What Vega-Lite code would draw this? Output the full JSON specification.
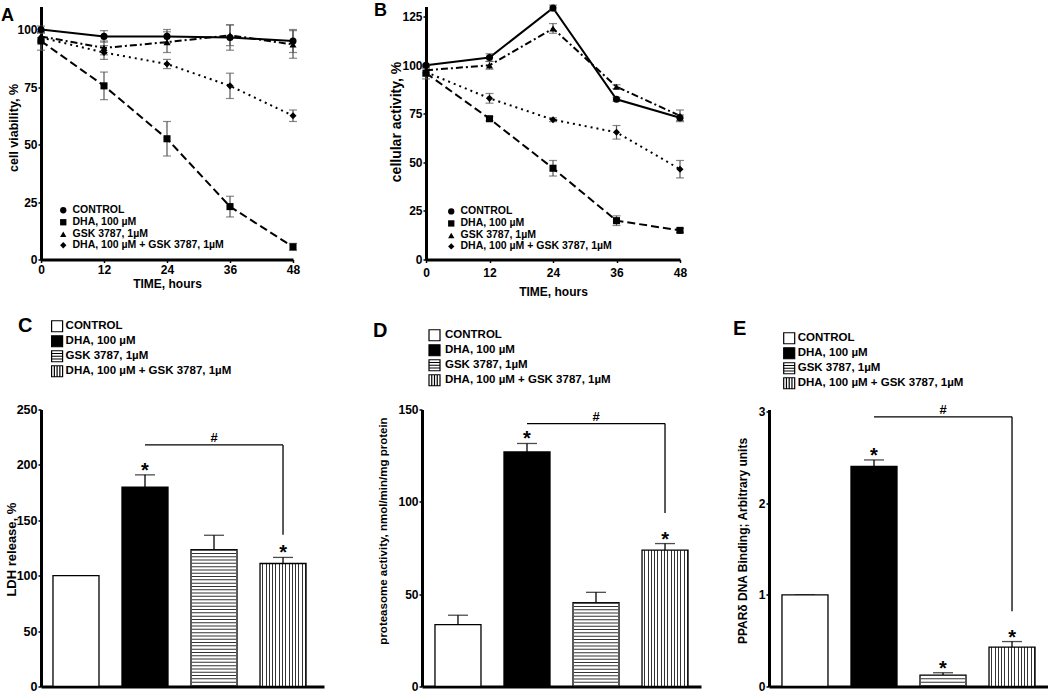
{
"$schema": "https://vega.github.io/schema/vega-lite/v6.json",
"background": "white",
"padding": {"left": 1, "top": 1.5, "right": 0, "bottom": 0},
"config": {
 "font": "Liberation Sans",
 "view": {"stroke": null},
 "axis": {"domainColor": "black", "domainWidth": 3, "tickColor": "black", "tickWidth": 1.5, "tickSize": 3, "labelColor": "black", "labelFontWeight": "bold", "labelFont": "Liberation Sans", "titleColor": "black", "titleFontWeight": "bold", "titleFont": "Liberation Sans", "titleBaseline": "middle", "grid": false, "zindex": 1, "labelFlush": false, "labelOverlap": false},
 "legend": {"labelFont": "Liberation Sans", "labelFontWeight": "bold", "labelColor": "black", "titleFont": "Liberation Sans", "titleColor": "black", "padding": 0, "direction": "vertical", "labelLimit": 0},
 "title": {"font": "Liberation Sans", "fontWeight": "bold", "color": "black"}
},
"datasets": {
 "lineA": [
  {"t": 0, "g": "CONTROL", "v": 100, "e": 1.5}, {"t": 12, "g": "CONTROL", "v": 97, "e": 2.5}, {"t": 24, "g": "CONTROL", "v": 97, "e": 3}, {"t": 36, "g": "CONTROL", "v": 96.5, "e": 5.5}, {"t": 48, "g": "CONTROL", "v": 95, "e": 5},
  {"t": 0, "g": "DHA, 100 µM", "v": 95, "e": 4}, {"t": 12, "g": "DHA, 100 µM", "v": 75.5, "e": 6}, {"t": 24, "g": "DHA, 100 µM", "v": 52.5, "e": 7.5}, {"t": 36, "g": "DHA, 100 µM", "v": 23, "e": 4.5}, {"t": 48, "g": "DHA, 100 µM", "v": 5.5, "e": 1.5},
  {"t": 0, "g": "GSK 3787, 1µM", "v": 97, "e": 2}, {"t": 12, "g": "GSK 3787, 1µM", "v": 92, "e": 3}, {"t": 24, "g": "GSK 3787, 1µM", "v": 94.5, "e": 4.5}, {"t": 36, "g": "GSK 3787, 1µM", "v": 97.5, "e": 4.5}, {"t": 48, "g": "GSK 3787, 1µM", "v": 93.5, "e": 6},
  {"t": 0, "g": "DHA, 100 µM + GSK 3787, 1µM", "v": 96.5, "e": 2}, {"t": 12, "g": "DHA, 100 µM + GSK 3787, 1µM", "v": 90, "e": 3}, {"t": 24, "g": "DHA, 100 µM + GSK 3787, 1µM", "v": 85, "e": 2}, {"t": 36, "g": "DHA, 100 µM + GSK 3787, 1µM", "v": 75.5, "e": 5.5}, {"t": 48, "g": "DHA, 100 µM + GSK 3787, 1µM", "v": 62.5, "e": 2.5}
 ],
 "lineB": [
  {"t": 0, "g": "CONTROL", "v": 100, "e": 0.5}, {"t": 12, "g": "CONTROL", "v": 104, "e": 2}, {"t": 24, "g": "CONTROL", "v": 129.5, "e": 1.5}, {"t": 36, "g": "CONTROL", "v": 82.5, "e": 1}, {"t": 48, "g": "CONTROL", "v": 73, "e": 1.5},
  {"t": 0, "g": "DHA, 100 µM", "v": 96, "e": 3}, {"t": 12, "g": "DHA, 100 µM", "v": 72.5, "e": 1}, {"t": 24, "g": "DHA, 100 µM", "v": 47, "e": 4}, {"t": 36, "g": "DHA, 100 µM", "v": 20, "e": 2.5}, {"t": 48, "g": "DHA, 100 µM", "v": 15, "e": 1},
  {"t": 0, "g": "GSK 3787, 1µM", "v": 97.5, "e": 2}, {"t": 12, "g": "GSK 3787, 1µM", "v": 100, "e": 2}, {"t": 24, "g": "GSK 3787, 1µM", "v": 119, "e": 2.5}, {"t": 36, "g": "GSK 3787, 1µM", "v": 89, "e": 1}, {"t": 48, "g": "GSK 3787, 1µM", "v": 74, "e": 3},
  {"t": 0, "g": "DHA, 100 µM + GSK 3787, 1µM", "v": 96.5, "e": 2}, {"t": 12, "g": "DHA, 100 µM + GSK 3787, 1µM", "v": 83, "e": 2.5}, {"t": 24, "g": "DHA, 100 µM + GSK 3787, 1µM", "v": 72, "e": 1}, {"t": 36, "g": "DHA, 100 µM + GSK 3787, 1µM", "v": 65.5, "e": 3.5}, {"t": 48, "g": "DHA, 100 µM + GSK 3787, 1µM", "v": 46.5, "e": 4.5}
 ],
 "barC": [
  {"g": "CONTROL", "v": 100, "hi": 100, "sig": ""},
  {"g": "DHA, 100 µM", "v": 180, "hi": 191, "sig": "*"},
  {"g": "GSK 3787, 1µM", "v": 123.5, "hi": 136.5, "sig": ""},
  {"g": "DHA, 100 µM + GSK 3787, 1µM", "v": 111, "hi": 116.5, "sig": "*"}
 ],
 "barD": [
  {"g": "CONTROL", "v": 33.5, "hi": 38.6, "sig": ""},
  {"g": "DHA, 100 µM", "v": 127, "hi": 131.6, "sig": "*"},
  {"g": "GSK 3787, 1µM", "v": 45.4, "hi": 51, "sig": ""},
  {"g": "DHA, 100 µM + GSK 3787, 1µM", "v": 73.8, "hi": 77.4, "sig": "*"}
 ],
 "barE": [
  {"g": "CONTROL", "v": 1.0, "hi": 1.0, "sig": ""},
  {"g": "DHA, 100 µM", "v": 2.4, "hi": 2.47, "sig": "*"},
  {"g": "GSK 3787, 1µM", "v": 0.125, "hi": 0.15, "sig": "*"},
  {"g": "DHA, 100 µM + GSK 3787, 1µM", "v": 0.43, "hi": 0.49, "sig": "*"}
 ],
 "brC": [{"from": "DHA, 100 µM", "to": "DHA, 100 µM + GSK 3787, 1µM", "mid": "GSK 3787, 1µM", "level": 218, "end": 137}],
 "brD": [{"from": "DHA, 100 µM", "to": "DHA, 100 µM + GSK 3787, 1µM", "mid": "GSK 3787, 1µM", "level": 142.4, "end": 94}],
 "brE": [{"from": "DHA, 100 µM", "to": "DHA, 100 µM + GSK 3787, 1µM", "mid": "GSK 3787, 1µM", "level": 2.94, "end": 0.82}]
},
"spacing": 403,
"bounds": "flush",
"resolve": {"scale": {"shape": "independent", "fill": "independent"}, "legend": {"shape": "independent", "fill": "independent"}},
"vconcat": [
 {
  "hconcat": [
   {
    "width": 252, "height": 253,
    "title": {"text": "A", "anchor": "start", "frame": "group", "offset": -32, "baseline": "alphabetic", "dx": -40, "fontSize": 18},
    "data": {"name": "lineA"},
    "encoding": {
     "x": {"field": "t", "type": "quantitative", "scale": {"domain": [0, 48], "nice": false, "zero": false}, "axis": {"values": [0, 12, 24, 36, 48], "title": "TIME, hours", "titleFontSize": 12, "titleY": 24, "labelFontSize": 12, "labelPadding": 2}},
     "y": {"field": "v", "type": "quantitative", "scale": {"domain": [0, 110], "nice": false}, "axis": {"values": [0, 25, 50, 75, 100], "title": "cell viability, %", "titleFontSize": 12.5, "titleX": -27.7, "titleY": 121, "labelFontSize": 12, "labelPadding": 1}}
    },
    "layer": [
     {"transform": [{"filter": "datum.g === 'CONTROL'"}], "mark": {"type": "line", "color": "black", "strokeWidth": 2}},
     {"transform": [{"filter": "datum.g === 'DHA, 100 µM'"}], "mark": {"type": "line", "color": "black", "strokeWidth": 2, "strokeDash": [8, 4]}},
     {"transform": [{"filter": "datum.g === 'GSK 3787, 1µM'"}], "mark": {"type": "line", "color": "black", "strokeWidth": 2, "strokeDash": [7, 3, 2, 3]}},
     {"transform": [{"filter": "datum.g === 'DHA, 100 µM + GSK 3787, 1µM'"}], "mark": {"type": "line", "color": "black", "strokeWidth": 2, "strokeDash": [2, 4]}},
     {"mark": {"type": "errorbar", "color": "#555", "thickness": 1.2, "ticks": {"size": 8}}, "encoding": {"yError": {"field": "e"}}},
     {"mark": {"type": "point", "filled": true, "color": "black", "opacity": 1, "size": 50}, "encoding": {"shape": {"field": "g", "type": "nominal", "scale": {"domain": ["CONTROL", "DHA, 100 µM", "GSK 3787, 1µM", "DHA, 100 µM + GSK 3787, 1µM"], "range": ["circle", "square", "triangle-up", "diamond"]}, "legend": {"orient": "none", "legendX": 17, "legendY": 198.5, "title": null, "labelFontSize": 10.5, "symbolSize": 40, "rowPadding": -3, "labelOffset": 4, "symbolFillColor": "black", "symbolStrokeColor": "black"}}}}
    ]
   },
   {
    "width": 254, "height": 253,
    "title": {"text": "B", "anchor": "start", "frame": "group", "offset": -30.4, "baseline": "alphabetic", "dx": -52, "fontSize": 18},
    "data": {"name": "lineB"},
    "encoding": {
     "x": {"field": "t", "type": "quantitative", "scale": {"domain": [0, 48], "nice": false, "zero": false}, "axis": {"values": [0, 12, 24, 36, 48], "title": "TIME, hours", "titleFontSize": 12, "titleY": 31.7, "labelFontSize": 12, "labelPadding": 5}},
     "y": {"field": "v", "type": "quantitative", "scale": {"domain": [0, 130.3], "nice": false}, "axis": {"values": [0, 25, 50, 75, 100, 125], "title": "cellular activity, %", "titleFontSize": 14, "titleX": -29.3, "titleY": 115, "labelFontSize": 12, "labelPadding": 1}}
    },
    "layer": [
     {"transform": [{"filter": "datum.g === 'CONTROL'"}], "mark": {"type": "line", "color": "black", "strokeWidth": 2}},
     {"transform": [{"filter": "datum.g === 'DHA, 100 µM'"}], "mark": {"type": "line", "color": "black", "strokeWidth": 2, "strokeDash": [8, 4]}},
     {"transform": [{"filter": "datum.g === 'GSK 3787, 1µM'"}], "mark": {"type": "line", "color": "black", "strokeWidth": 2, "strokeDash": [7, 3, 2, 3]}},
     {"transform": [{"filter": "datum.g === 'DHA, 100 µM + GSK 3787, 1µM'"}], "mark": {"type": "line", "color": "black", "strokeWidth": 2, "strokeDash": [2, 4]}},
     {"mark": {"type": "errorbar", "color": "#555", "thickness": 1.2, "ticks": {"size": 8}}, "encoding": {"yError": {"field": "e"}}},
     {"mark": {"type": "point", "filled": true, "color": "black", "opacity": 1, "size": 50}, "encoding": {"shape": {"field": "g", "type": "nominal", "scale": {"domain": ["CONTROL", "DHA, 100 µM", "GSK 3787, 1µM", "DHA, 100 µM + GSK 3787, 1µM"], "range": ["circle", "square", "triangle-up", "diamond"]}, "legend": {"orient": "none", "legendX": 20, "legendY": 199.7, "title": null, "labelFontSize": 10.5, "symbolSize": 40, "rowPadding": -2.2, "labelOffset": 4, "symbolFillColor": "black", "symbolStrokeColor": "black"}}}}
    ]
   }
  ],
  "spacing": 133,
  "bounds": "flush",
  "resolve": {"scale": {"shape": "independent", "fill": "independent"}, "legend": {"shape": "independent", "fill": "independent"}}
 },
 {
  "hconcat": [
   {
    "width": 283, "height": 277,
    "data": {"name": "barC"},
    "encoding": {"x": {"field": "g", "type": "nominal", "sort": null, "scale": {"domain": ["CONTROL", "DHA, 100 µM", "GSK 3787, 1µM", "DHA, 100 µM + GSK 3787, 1µM"], "paddingInner": 0.3333, "paddingOuter": 0.217, "align": 0.4}, "axis": {"labels": false, "ticks": false, "title": null}}},
    "layer": [
     {"mark": {"type": "rule", "color": "black", "strokeWidth": 1.3}, "encoding": {"y": {"field": "v", "type": "quantitative", "scale": {"domain": [0, 250], "nice": false}, "axis": {"values": [0, 50, 100, 150, 200, 250], "title": "LDH release, %", "titleFontSize": 13, "titleX": -29.3, "titleY": 139.6, "labelFontSize": 12.5, "labelPadding": 1}}, "y2": {"field": "hi"}}},
     {"mark": {"type": "tick", "color": "black", "size": 20, "thickness": 1.3}, "encoding": {"y": {"field": "hi", "type": "quantitative"}}},
     {"mark": {"type": "bar", "stroke": "black", "strokeWidth": 1.3}, "encoding": {"y": {"field": "v", "type": "quantitative"}, "fill": {"condition": {"test": "datum.g === 'DHA, 100 µM + GSK 3787, 1µM'", "value": {"gradient": "linear", "x1": 0, "y1": 0, "x2": 1, "y2": 0, "stops": [{"offset":0,"color":"white"},{"offset":0.05,"color":"white"},{"offset":0.05,"color":"#333"},{"offset":0.0714,"color":"#333"},{"offset":0.0714,"color":"white"},{"offset":0.1214,"color":"white"},{"offset":0.1214,"color":"#333"},{"offset":0.1429,"color":"#333"},{"offset":0.1429,"color":"white"},{"offset":0.1929,"color":"white"},{"offset":0.1929,"color":"#333"},{"offset":0.2143,"color":"#333"},{"offset":0.2143,"color":"white"},{"offset":0.2643,"color":"white"},{"offset":0.2643,"color":"#333"},{"offset":0.2857,"color":"#333"},{"offset":0.2857,"color":"white"},{"offset":0.3357,"color":"white"},{"offset":0.3357,"color":"#333"},{"offset":0.3571,"color":"#333"},{"offset":0.3571,"color":"white"},{"offset":0.4071,"color":"white"},{"offset":0.4071,"color":"#333"},{"offset":0.4286,"color":"#333"},{"offset":0.4286,"color":"white"},{"offset":0.4786,"color":"white"},{"offset":0.4786,"color":"#333"},{"offset":0.5,"color":"#333"},{"offset":0.5,"color":"white"},{"offset":0.55,"color":"white"},{"offset":0.55,"color":"#333"},{"offset":0.5714,"color":"#333"},{"offset":0.5714,"color":"white"},{"offset":0.6214,"color":"white"},{"offset":0.6214,"color":"#333"},{"offset":0.6429,"color":"#333"},{"offset":0.6429,"color":"white"},{"offset":0.6929,"color":"white"},{"offset":0.6929,"color":"#333"},{"offset":0.7143,"color":"#333"},{"offset":0.7143,"color":"white"},{"offset":0.7643,"color":"white"},{"offset":0.7643,"color":"#333"},{"offset":0.7857,"color":"#333"},{"offset":0.7857,"color":"white"},{"offset":0.8357,"color":"white"},{"offset":0.8357,"color":"#333"},{"offset":0.8571,"color":"#333"},{"offset":0.8571,"color":"white"},{"offset":0.9071,"color":"white"},{"offset":0.9071,"color":"#333"},{"offset":0.9286,"color":"#333"},{"offset":0.9286,"color":"white"},{"offset":0.9786,"color":"white"},{"offset":0.9786,"color":"#333"},{"offset":1,"color":"#333"}]}}, "field": "g", "type": "nominal", "scale": {"domain": ["CONTROL", "DHA, 100 µM", "GSK 3787, 1µM", "DHA, 100 µM + GSK 3787, 1µM"], "range": ["white", "black", "white", "white"]}, "legend": {"orient": "none", "legendX": -23, "legendY": -89.75, "title": "C", "titleOrient": "left", "titleAnchor": "start", "titleFontSize": 20, "titleFontWeight": "bold", "titlePadding": 17.6, "titleBaseline": "top", "labelFontSize": 11.5, "symbolType": "square", "symbolSize": 121, "symbolStrokeColor": "black", "symbolStrokeWidth": 1.2, "rowPadding": -2.2, "labelOffset": 2, "encode": {"symbols": {"update": {"stroke": {"value": "black"}, "strokeWidth": {"value": 1.2}, "opacity": {"value": 1}, "shape": {"signal": "datum.value === 'GSK 3787, 1µM' ? 'M-1,-1H1V1H-1Z M-1,-0.5H1 M-1,0H1 M-1,0.5H1' : datum.value === 'DHA, 100 µM + GSK 3787, 1µM' ? 'M-1,-1H1V1H-1Z M-0.5,-1V1 M0,-1V1 M0.5,-1V1' : 'square'"}}}, "title": {"update": {"dy": {"value": -3.75}}}}}}}},
     {"transform": [{"filter": "datum.g === 'GSK 3787, 1µM'"}], "mark": {"type": "rule", "strokeWidth": 44, "strokeDash": [1, 2.3], "color": "#333", "strokeCap": "butt"}, "encoding": {"y": {"field": "v", "type": "quantitative"}, "y2": {"datum": 0}}},
     {"mark": {"type": "text", "fontSize": 20, "fontWeight": "bold", "baseline": "alphabetic", "dy": 2, "color": "black"}, "encoding": {"y": {"field": "hi", "type": "quantitative"}, "text": {"field": "sig"}}},
     {"data": {"name": "brC"}, "mark": {"type": "rule", "color": "black", "strokeWidth": 1.3}, "encoding": {"x": {"field": "from", "type": "nominal"}, "x2": {"field": "to"}, "y": {"field": "level", "type": "quantitative"}}},
     {"data": {"name": "brC"}, "mark": {"type": "rule", "color": "black", "strokeWidth": 1.3}, "encoding": {"x": {"field": "to", "type": "nominal"}, "y": {"field": "level", "type": "quantitative"}, "y2": {"field": "end"}}},
     {"data": {"name": "brC"}, "mark": {"type": "text", "fontSize": 13, "fontWeight": "bold", "baseline": "alphabetic", "dy": -3, "color": "black"}, "encoding": {"x": {"field": "mid", "type": "nominal"}, "y": {"field": "level", "type": "quantitative"}, "text": {"value": "#"}}}
    ]
   },
   {
    "hconcat": [
     {
      "width": 279, "height": 277,
      "data": {"name": "barD"},
      "encoding": {"x": {"field": "g", "type": "nominal", "sort": null, "scale": {"domain": ["CONTROL", "DHA, 100 µM", "GSK 3787, 1µM", "DHA, 100 µM + GSK 3787, 1µM"], "paddingInner": 0.3333, "paddingOuter": 0.188}, "axis": {"labels": false, "ticks": false, "title": null}}},
      "layer": [
       {"mark": {"type": "rule", "color": "black", "strokeWidth": 1.3}, "encoding": {"y": {"field": "v", "type": "quantitative", "scale": {"domain": [0, 150], "nice": false}, "axis": {"values": [0, 50, 100, 150], "title": "proteasome activity, nmol/min/mg protein", "titleFontSize": 11.5, "titleX": -38.7, "titleY": 121, "labelFontSize": 12, "labelPadding": 1}}, "y2": {"field": "hi"}}},
       {"mark": {"type": "tick", "color": "black", "size": 20, "thickness": 1.3}, "encoding": {"y": {"field": "hi", "type": "quantitative"}}},
       {"mark": {"type": "bar", "stroke": "black", "strokeWidth": 1.3}, "encoding": {"y": {"field": "v", "type": "quantitative"}, "fill": {"condition": {"test": "datum.g === 'DHA, 100 µM + GSK 3787, 1µM'", "value": {"gradient": "linear", "x1": 0, "y1": 0, "x2": 1, "y2": 0, "stops": [{"offset":0,"color":"white"},{"offset":0.05,"color":"white"},{"offset":0.05,"color":"#333"},{"offset":0.0714,"color":"#333"},{"offset":0.0714,"color":"white"},{"offset":0.1214,"color":"white"},{"offset":0.1214,"color":"#333"},{"offset":0.1429,"color":"#333"},{"offset":0.1429,"color":"white"},{"offset":0.1929,"color":"white"},{"offset":0.1929,"color":"#333"},{"offset":0.2143,"color":"#333"},{"offset":0.2143,"color":"white"},{"offset":0.2643,"color":"white"},{"offset":0.2643,"color":"#333"},{"offset":0.2857,"color":"#333"},{"offset":0.2857,"color":"white"},{"offset":0.3357,"color":"white"},{"offset":0.3357,"color":"#333"},{"offset":0.3571,"color":"#333"},{"offset":0.3571,"color":"white"},{"offset":0.4071,"color":"white"},{"offset":0.4071,"color":"#333"},{"offset":0.4286,"color":"#333"},{"offset":0.4286,"color":"white"},{"offset":0.4786,"color":"white"},{"offset":0.4786,"color":"#333"},{"offset":0.5,"color":"#333"},{"offset":0.5,"color":"white"},{"offset":0.55,"color":"white"},{"offset":0.55,"color":"#333"},{"offset":0.5714,"color":"#333"},{"offset":0.5714,"color":"white"},{"offset":0.6214,"color":"white"},{"offset":0.6214,"color":"#333"},{"offset":0.6429,"color":"#333"},{"offset":0.6429,"color":"white"},{"offset":0.6929,"color":"white"},{"offset":0.6929,"color":"#333"},{"offset":0.7143,"color":"#333"},{"offset":0.7143,"color":"white"},{"offset":0.7643,"color":"white"},{"offset":0.7643,"color":"#333"},{"offset":0.7857,"color":"#333"},{"offset":0.7857,"color":"white"},{"offset":0.8357,"color":"white"},{"offset":0.8357,"color":"#333"},{"offset":0.8571,"color":"#333"},{"offset":0.8571,"color":"white"},{"offset":0.9071,"color":"white"},{"offset":0.9071,"color":"#333"},{"offset":0.9286,"color":"#333"},{"offset":0.9286,"color":"white"},{"offset":0.9786,"color":"white"},{"offset":0.9786,"color":"#333"},{"offset":1,"color":"#333"}]}}, "field": "g", "type": "nominal", "scale": {"domain": ["CONTROL", "DHA, 100 µM", "GSK 3787, 1µM", "DHA, 100 µM + GSK 3787, 1µM"], "range": ["white", "black", "white", "white"]}, "legend": {"orient": "none", "legendX": -49, "legendY": -80.75, "title": "D", "titleOrient": "left", "titleAnchor": "start", "titleFontSize": 20, "titleFontWeight": "bold", "titlePadding": 40, "titleBaseline": "top", "labelFontSize": 11.5, "symbolType": "square", "symbolSize": 121, "symbolStrokeColor": "black", "symbolStrokeWidth": 1.2, "rowPadding": -2.2, "labelOffset": 4, "encode": {"symbols": {"update": {"stroke": {"value": "black"}, "strokeWidth": {"value": 1.2}, "opacity": {"value": 1}, "shape": {"signal": "datum.value === 'GSK 3787, 1µM' ? 'M-1,-1H1V1H-1Z M-1,-0.5H1 M-1,0H1 M-1,0.5H1' : datum.value === 'DHA, 100 µM + GSK 3787, 1µM' ? 'M-1,-1H1V1H-1Z M-0.5,-1V1 M0,-1V1 M0.5,-1V1' : 'square'"}}}, "title": {"update": {"dy": {"value": -7.75}}}}}}}},
       {"transform": [{"filter": "datum.g === 'GSK 3787, 1µM'"}], "mark": {"type": "rule", "strokeWidth": 44, "strokeDash": [1, 2.3], "color": "#333", "strokeCap": "butt"}, "encoding": {"y": {"field": "v", "type": "quantitative"}, "y2": {"datum": 0}}},
       {"mark": {"type": "text", "fontSize": 20, "fontWeight": "bold", "baseline": "alphabetic", "dy": 2, "color": "black"}, "encoding": {"y": {"field": "hi", "type": "quantitative"}, "text": {"field": "sig"}}},
       {"data": {"name": "brD"}, "mark": {"type": "rule", "color": "black", "strokeWidth": 1.3}, "encoding": {"x": {"field": "from", "type": "nominal"}, "x2": {"field": "to"}, "y": {"field": "level", "type": "quantitative"}}},
       {"data": {"name": "brD"}, "mark": {"type": "rule", "color": "black", "strokeWidth": 1.3}, "encoding": {"x": {"field": "to", "type": "nominal"}, "y": {"field": "level", "type": "quantitative"}, "y2": {"field": "end"}}},
       {"data": {"name": "brD"}, "mark": {"type": "text", "fontSize": 13, "fontWeight": "bold", "baseline": "alphabetic", "dy": -3, "color": "black"}, "encoding": {"x": {"field": "mid", "type": "nominal"}, "y": {"field": "level", "type": "quantitative"}, "text": {"value": "#"}}}
      ]
     },
     {
      "width": 279, "height": 277,
      "data": {"name": "barE"},
      "encoding": {"x": {"field": "g", "type": "nominal", "sort": null, "scale": {"domain": ["CONTROL", "DHA, 100 µM", "GSK 3787, 1µM", "DHA, 100 µM + GSK 3787, 1µM"], "paddingInner": 0.3333, "paddingOuter": 0.188}, "axis": {"labels": false, "ticks": false, "title": null}}},
      "layer": [
       {"mark": {"type": "rule", "color": "black", "strokeWidth": 1.3}, "encoding": {"y": {"field": "v", "type": "quantitative", "scale": {"domain": [0, 3.02], "nice": false}, "axis": {"values": [0, 1, 2, 3], "format": "d", "title": "PPARδ DNA Binding; Arbitrary units", "titleFontSize": 12, "titleX": -26.5, "titleY": 131, "labelFontSize": 12, "labelPadding": 1}}, "y2": {"field": "hi"}}},
       {"mark": {"type": "tick", "color": "black", "size": 20, "thickness": 1.3}, "encoding": {"y": {"field": "hi", "type": "quantitative"}}},
       {"mark": {"type": "bar", "stroke": "black", "strokeWidth": 1.3}, "encoding": {"y": {"field": "v", "type": "quantitative"}, "fill": {"condition": {"test": "datum.g === 'DHA, 100 µM + GSK 3787, 1µM'", "value": {"gradient": "linear", "x1": 0, "y1": 0, "x2": 1, "y2": 0, "stops": [{"offset":0,"color":"white"},{"offset":0.05,"color":"white"},{"offset":0.05,"color":"#333"},{"offset":0.0714,"color":"#333"},{"offset":0.0714,"color":"white"},{"offset":0.1214,"color":"white"},{"offset":0.1214,"color":"#333"},{"offset":0.1429,"color":"#333"},{"offset":0.1429,"color":"white"},{"offset":0.1929,"color":"white"},{"offset":0.1929,"color":"#333"},{"offset":0.2143,"color":"#333"},{"offset":0.2143,"color":"white"},{"offset":0.2643,"color":"white"},{"offset":0.2643,"color":"#333"},{"offset":0.2857,"color":"#333"},{"offset":0.2857,"color":"white"},{"offset":0.3357,"color":"white"},{"offset":0.3357,"color":"#333"},{"offset":0.3571,"color":"#333"},{"offset":0.3571,"color":"white"},{"offset":0.4071,"color":"white"},{"offset":0.4071,"color":"#333"},{"offset":0.4286,"color":"#333"},{"offset":0.4286,"color":"white"},{"offset":0.4786,"color":"white"},{"offset":0.4786,"color":"#333"},{"offset":0.5,"color":"#333"},{"offset":0.5,"color":"white"},{"offset":0.55,"color":"white"},{"offset":0.55,"color":"#333"},{"offset":0.5714,"color":"#333"},{"offset":0.5714,"color":"white"},{"offset":0.6214,"color":"white"},{"offset":0.6214,"color":"#333"},{"offset":0.6429,"color":"#333"},{"offset":0.6429,"color":"white"},{"offset":0.6929,"color":"white"},{"offset":0.6929,"color":"#333"},{"offset":0.7143,"color":"#333"},{"offset":0.7143,"color":"white"},{"offset":0.7643,"color":"white"},{"offset":0.7643,"color":"#333"},{"offset":0.7857,"color":"#333"},{"offset":0.7857,"color":"white"},{"offset":0.8357,"color":"white"},{"offset":0.8357,"color":"#333"},{"offset":0.8571,"color":"#333"},{"offset":0.8571,"color":"white"},{"offset":0.9071,"color":"white"},{"offset":0.9071,"color":"#333"},{"offset":0.9286,"color":"#333"},{"offset":0.9286,"color":"white"},{"offset":0.9786,"color":"white"},{"offset":0.9786,"color":"#333"},{"offset":1,"color":"#333"}]}}, "field": "g", "type": "nominal", "scale": {"domain": ["CONTROL", "DHA, 100 µM", "GSK 3787, 1µM", "DHA, 100 µM + GSK 3787, 1µM"], "range": ["white", "black", "white", "white"]}, "legend": {"orient": "none", "legendX": -36, "legendY": -77.75, "title": "E", "titleOrient": "left", "titleAnchor": "start", "titleFontSize": 20, "titleFontWeight": "bold", "titlePadding": 35.7, "titleBaseline": "top", "labelFontSize": 11.5, "symbolType": "square", "symbolSize": 121, "symbolStrokeColor": "black", "symbolStrokeWidth": 1.2, "rowPadding": -2.2, "labelOffset": 2, "encode": {"symbols": {"update": {"stroke": {"value": "black"}, "strokeWidth": {"value": 1.2}, "opacity": {"value": 1}, "shape": {"signal": "datum.value === 'GSK 3787, 1µM' ? 'M-1,-1H1V1H-1Z M-1,-0.5H1 M-1,0H1 M-1,0.5H1' : datum.value === 'DHA, 100 µM + GSK 3787, 1µM' ? 'M-1,-1H1V1H-1Z M-0.5,-1V1 M0,-1V1 M0.5,-1V1' : 'square'"}}}, "title": {"update": {"dy": {"value": -12.75}}}}}}}},
       {"transform": [{"filter": "datum.g === 'GSK 3787, 1µM'"}], "mark": {"type": "rule", "strokeWidth": 44, "strokeDash": [1, 2.3], "color": "#333", "strokeCap": "butt"}, "encoding": {"y": {"field": "v", "type": "quantitative"}, "y2": {"datum": 0}}},
       {"mark": {"type": "text", "fontSize": 20, "fontWeight": "bold", "baseline": "alphabetic", "dy": 2, "color": "black"}, "encoding": {"y": {"field": "hi", "type": "quantitative"}, "text": {"field": "sig"}}},
       {"data": {"name": "brE"}, "mark": {"type": "rule", "color": "black", "strokeWidth": 1.3}, "encoding": {"x": {"field": "from", "type": "nominal"}, "x2": {"field": "to"}, "y": {"field": "level", "type": "quantitative"}}},
       {"data": {"name": "brE"}, "mark": {"type": "rule", "color": "black", "strokeWidth": 1.3}, "encoding": {"x": {"field": "to", "type": "nominal"}, "y": {"field": "level", "type": "quantitative"}, "y2": {"field": "end"}}},
       {"data": {"name": "brE"}, "mark": {"type": "text", "fontSize": 13, "fontWeight": "bold", "baseline": "alphabetic", "dy": -3, "color": "black"}, "encoding": {"x": {"field": "mid", "type": "nominal"}, "y": {"field": "level", "type": "quantitative"}, "text": {"value": "#"}}}
      ]
     }
    ],
    "spacing": 68,
    "bounds": "flush",
    "resolve": {"scale": {"shape": "independent", "fill": "independent"}, "legend": {"shape": "independent", "fill": "independent"}}
   }
  ],
  "spacing": 98,
  "bounds": "flush",
  "resolve": {"scale": {"shape": "independent", "fill": "independent"}, "legend": {"shape": "independent", "fill": "independent"}}
 }
]
}
